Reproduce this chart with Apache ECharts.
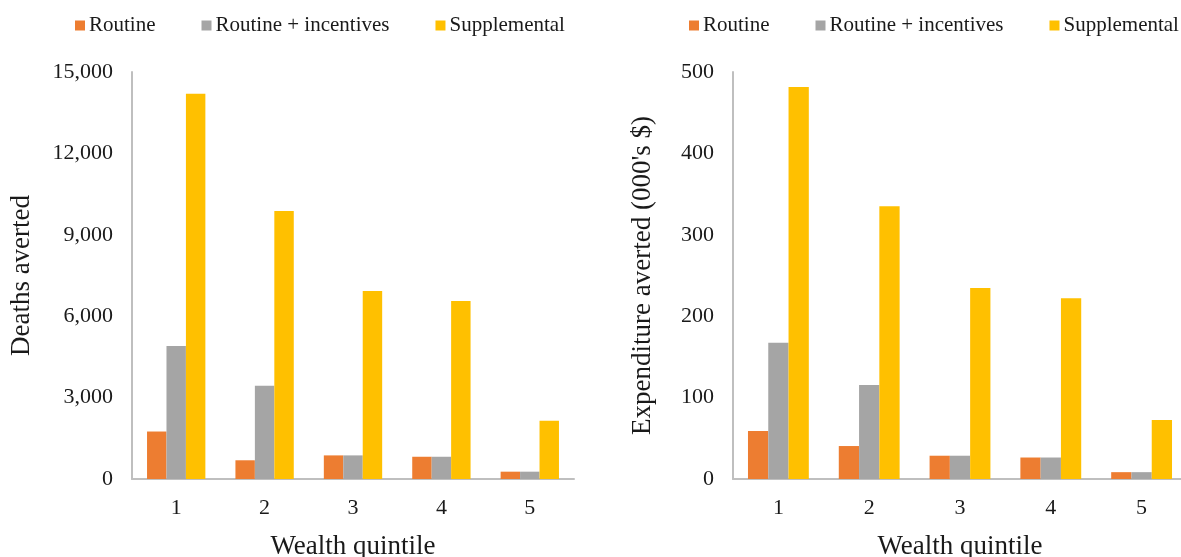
<!DOCTYPE html>
<html>
<head>
<meta charset="utf-8">
<script src="https://cdn.jsdelivr.net/npm/echarts@6/dist/echarts.min.js"></script>
<style>
html,body{margin:0;padding:0;background:#fff;}
#chart{width:1181px;height:557px;}
</style>
</head>
<body>
<div id="chart"></div>
<script>
const categories = ['1', '2', '3', '4', '5'];
const seriesNames = ['Routine', 'Routine + incentives', 'Supplemental'];
const deathsRoutine = [1750, 690, 870, 820, 270];
const deathsIncentives = [4900, 3440, 870, 820, 270];
const deathsSupplemental = [14200, 9880, 6930, 6560, 2150];
const expRoutine = [59, 40.5, 28.6, 26.4, 8.4];
const expIncentives = [167.5, 115.6, 28.6, 26.4, 8.4];
const expSupplemental = [481.6, 335, 234.5, 222, 72.5];
const leftTicks = [0, 3000, 6000, 9000, 12000, 15000];
const rightTicks = [0, 100, 200, 300, 400, 500];

const colors = ['#ED7D31', '#A5A5A5', '#FFC000'];
const FONT = '"Liberation Serif", "Times New Roman", serif';
const TXT = '#1a1a1a';

const chart = echarts.init(document.getElementById('chart'));

function xAxis(gridIndex) {
  return {
    type: 'category', gridIndex, data: categories,
    name: 'Wealth quintile', nameLocation: 'middle', nameGap: 54,
    nameTextStyle: { fontFamily: FONT, fontSize: 27, color: TXT },
    axisLine: { lineStyle: { color: '#BFBFBF', width: 2 } },
    axisTick: { show: false },
    axisLabel: { fontFamily: FONT, fontSize: 22, color: TXT, margin: 18 }
  };
}
function yAxis(gridIndex, ticks, name, nameGap, fmt) {
  return {
    type: 'value', gridIndex, min: ticks[0], max: ticks[ticks.length - 1],
    interval: ticks[1] - ticks[0],
    name, nameLocation: 'middle', nameGap,
    nameTextStyle: { fontFamily: FONT, fontSize: 27, color: TXT },
    axisLine: { show: true, lineStyle: { color: '#BFBFBF', width: 2 } },
    axisTick: { show: false },
    splitLine: { show: false },
    axisLabel: { fontFamily: FONT, fontSize: 22, color: TXT, margin: 19, formatter: fmt }
  };
}
function legend(left) {
  return {
    left, top: 15, width: 560, padding: 0, itemWidth: 10, itemHeight: 10, itemGap: 46,
    icon: 'rect', data: seriesNames,
    textStyle: { fontFamily: FONT, fontSize: 21, color: TXT, padding: [0, 0, 0, -1] }
  };
}
function bars(name, data, idx, axisIdx, gap) {
  return {
    type: 'bar', name, data, xAxisIndex: axisIdx, yAxisIndex: axisIdx,
    barGap: '0%', barCategoryGap: gap,
    itemStyle: { color: colors[idx] }, animation: false
  };
}

chart.setOption({
  animation: false,
  color: colors,
  legend: [legend(75), legend(689)],
  grid: [
    { left: 132, right: 607, top: 72, bottom: 78, outerBoundsMode: 'none', containLabel: false },
    { left: 733, right: -6, top: 72, bottom: 78, outerBoundsMode: 'none', containLabel: false }
  ],
  xAxis: [xAxis(0), xAxis(1)],
  yAxis: [
    yAxis(0, leftTicks, 'Deaths averted', 97, v => v.toLocaleString('en-US')),
    yAxis(1, rightTicks, "Expenditure averted (000's $)", 77, v => String(v))
  ],
  series: [
    bars(seriesNames[0], deathsRoutine, 0, 0, '34%'),
    bars(seriesNames[1], deathsIncentives, 1, 0, '34%'),
    bars(seriesNames[2], deathsSupplemental, 2, 0, '34%'),
    bars(seriesNames[0], expRoutine, 0, 1, '33%'),
    bars(seriesNames[1], expIncentives, 1, 1, '33%'),
    bars(seriesNames[2], expSupplemental, 2, 1, '33%')
  ]
});
</script>
</body>
</html>
